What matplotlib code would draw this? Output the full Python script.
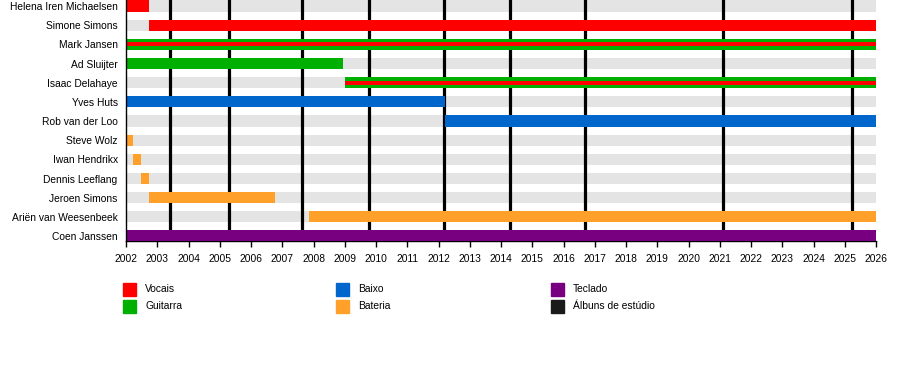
import matplotlib
matplotlib.use("Agg")
import matplotlib.pyplot as plt
from matplotlib.patches import Rectangle

plt.rcParams["font.family"] = ["Liberation Sans", "DejaVu Sans"]
plt.rcParams["font.size"] = 7.4

# members, top to bottom
members = [
    "Helena Iren Michaelsen", "Simone Simons", "Mark Jansen", "Ad Sluijter",
    "Isaac Delahaye", "Yves Huts", "Rob van der Loo", "Steve Wolz",
    "Iwan Hendrikx", "Dennis Leeflang", "Jeroen Simons",
    "Ariën van Weesenbeek", "Coen Janssen",
]
# dates in decimal years
tenures_start = [2002.0, 2002.74, 2002.0, 2002.0, 2009.0, 2002.0, 2012.21,
                 2002.0, 2002.21, 2002.49, 2002.73, 2007.86, 2002.0]
tenures_end = [2002.74, 2026.0, 2026.0, 2008.93, 2026.0, 2012.21, 2026.0,
               2002.21, 2002.49, 2002.73, 2006.77, 2026.0, 2026.0]
main_role = ["Vocais", "Vocais", "Guitarra", "Guitarra", "Guitarra", "Baixo",
             "Baixo", "Bateria", "Bateria", "Bateria", "Bateria", "Bateria",
             "Teclado"]
second_role = [None, None, "Vocais", None, "Vocais", None, None, None, None,
               None, None, None, None]

albums = [2003.42, 2005.29, 2007.62, 2009.77, 2012.16, 2014.29, 2016.70,
          2021.11, 2025.24]

role_names = ["Vocais", "Guitarra", "Baixo", "Bateria", "Teclado", "Álbuns de estúdio"]
role_colors = {
    "Vocais": "#ff0000",
    "Guitarra": "#00b000",
    "Baixo": "#0066cc",
    "Bateria": "#ffa02a",
    "Teclado": "#780080",
    "Álbuns de estúdio": "#1a1a1a",
}

x_start, x_end = 2002, 2026
years = list(range(x_start, x_end + 1))

W, H = 900, 365
fig = plt.figure(figsize=(W / 100, H / 100), dpi=100)
left_px, right_px, top_px, bottom_px = 126, 876, 0, 241
ax = fig.add_axes([left_px / W, 1 - bottom_px / H,
                   (right_px - left_px) / W, (bottom_px - top_px) / H])

row_px = 19.17
ax.set_ylim((bottom_px - 6) / row_px, -6 / row_px)
ax.set_xlim(x_start, x_end)

bar_h = 0.58
n = len(members)
for i in range(n):
    ax.barh(i, x_end - x_start, left=x_start, height=bar_h,
            color="#e4e4e4", zorder=1)

for x in albums:
    ax.axvline(x, color="black", lw=2.3, zorder=2)

for i in range(n):
    s, e = tenures_start[i], tenures_end[i]
    ax.barh(i, e - s, left=s, height=bar_h,
            color=role_colors[main_role[i]], zorder=3)
    if second_role[i]:
        ax.barh(i, e - s, left=s, height=bar_h / 3,
                color=role_colors[second_role[i]], zorder=4)

ax.set_yticks(range(n))
ax.set_yticklabels(members)
ax.tick_params(axis="y", length=0, pad=6)
ax.set_xticks(years)
ax.set_xticklabels([str(y) for y in years])
ax.tick_params(axis="x", length=4, width=1, pad=5, direction="out")

for side in ["top", "right"]:
    ax.spines[side].set_visible(False)
ax.spines["left"].set_linewidth(1)
ax.spines["bottom"].set_linewidth(1)
ax.spines["left"].set_zorder(5)

# legend, three columns of two
col_x = [123, 336, 551]
row_y = [289, 306]
sq = 13
for k, name in enumerate(role_names):
    cx = col_x[k // 2]
    cy = row_y[k % 2]
    fig.add_artist(Rectangle((cx / W, 1 - (cy + sq / 2) / H), sq / W, sq / H,
                             transform=fig.transFigure,
                             color=role_colors[name]))
    fig.text((cx + 22) / W, 1 - cy / H, name, va="center", ha="left")

fig.savefig("out.png", dpi=100)
